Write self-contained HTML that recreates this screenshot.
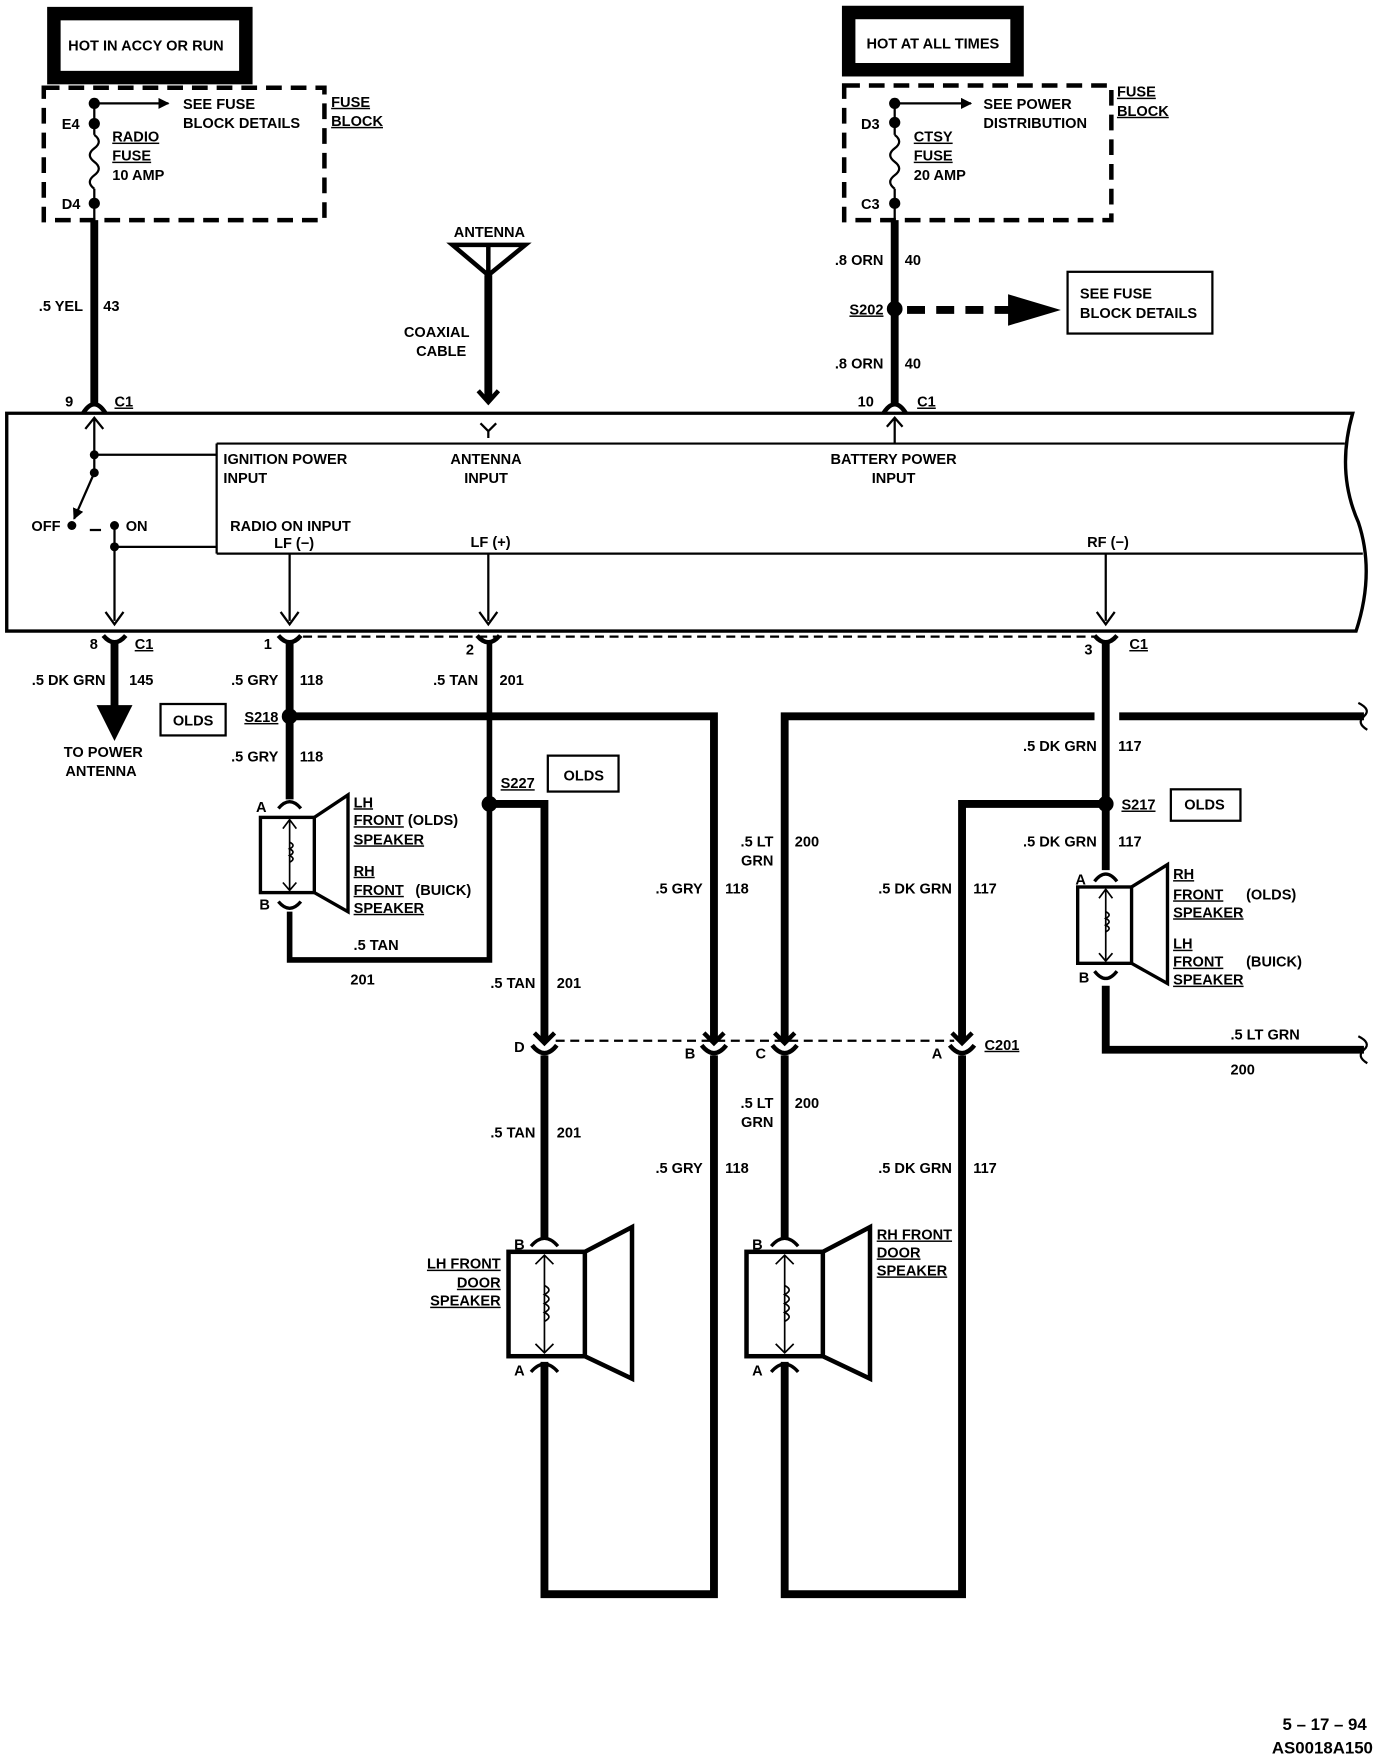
<!DOCTYPE html>
<html><head><meta charset="utf-8"><style>
html,body{margin:0;padding:0;background:#fff}
svg{display:block}
text{font-family:"Liberation Sans",sans-serif;font-weight:bold;font-size:13px;fill:#000}
.u{text-decoration:underline}
</style></head><body>
<svg width="1392" height="1756" viewBox="0 0 1240 1564" xmlns="http://www.w3.org/2000/svg">
<defs>
<marker id="ah" markerWidth="10" markerHeight="10" refX="9" refY="5" orient="auto" markerUnits="userSpaceOnUse"><path d="M0,0 L10,5 L0,10 z"/></marker>
</defs>
<g fill="none" stroke="#000">
<rect x="48" y="12" width="171" height="57" stroke-width="12"/>
<rect x="39" y="78" width="250" height="118" stroke-width="4" stroke-dasharray="14,8"/>
<line x1="84" y1="88" x2="84" y2="120" stroke-width="2"/>
<path d="M84,120 q8,6 0,12 q-8,6 0,12 q8,6 0,12 q-8,6 0,12" stroke-width="2"/>
<line x1="84" y1="168" x2="84" y2="196" stroke-width="2"/>
<line x1="84" y1="92" x2="150" y2="92" stroke-width="2" marker-end="url(#ah)"/>
<line x1="84" y1="196" x2="84" y2="360" stroke-width="7"/>
<rect x="756" y="11" width="150" height="51" stroke-width="12"/>
<rect x="752" y="76" width="238" height="120" stroke-width="4" stroke-dasharray="14,8"/>
<line x1="797" y1="88" x2="797" y2="120" stroke-width="2"/>
<path d="M797,120 q8,6 0,12 q-8,6 0,12 q8,6 0,12 q-8,6 0,12" stroke-width="2"/>
<line x1="797" y1="168" x2="797" y2="196" stroke-width="2"/>
<line x1="797" y1="92" x2="865" y2="92" stroke-width="2" marker-end="url(#ah)"/>
<line x1="797" y1="196" x2="797" y2="360" stroke-width="7"/>
<line x1="808" y1="276" x2="900" y2="276" stroke-width="7" stroke-dasharray="16,10"/>
<rect x="951" y="242" width="129" height="55" stroke-width="2"/>
<path d="M403,218 L468,218 L435,245 Z M435,218 L435,245" stroke-width="4"/>
<line x1="435" y1="245" x2="435" y2="356" stroke-width="7"/>
<path d="M426,348 L435,358 L444,348" stroke-width="4"/>
<path d="M428,377 L435,384 L442,377 M435,384 L435,390" stroke-width="2"/>
<path d="M74,368 Q84,352 94,368" stroke-width="4"/>
<path d="M787,368 Q797,352 807,368" stroke-width="4"/>
<path d="M6,368 L1205,368 Q1190,420 1210,465 Q1225,510 1208,562 L6,562 Z" stroke-width="3"/>
<path d="M193,395 L1198,395 M193,493 L1214,493 M193,395 L193,493" stroke-width="2"/>
<path d="M84,372 L84,421 M76,382 L84,372 L92,382" stroke-width="2"/>
<path d="M84,405 L193,405" stroke-width="2"/>
<line x1="84" y1="421" x2="66" y2="462" stroke-width="2" marker-end="url(#ah)"/>
<path d="M80,472 L90,472" stroke-width="2"/>
<path d="M102,468 L102,553 M102,487 L193,487" stroke-width="2"/>
<path d="M797,395 L797,372 M790,380 L797,372 L804,380" stroke-width="2"/>
<path d="M258,493 L258,553 M435,493 L435,553 M985,493 L985,553" stroke-width="2"/>
<path d="M94,545 L102,556 L110,545 M250,545 L258,556 L266,545 M427,545 L435,556 L443,545 M977,545 L985,556 L993,545" stroke-width="2"/>
<path d="M92,566 Q102,578 112,566 M248,566 Q258,578 268,566 M425,566 Q435,578 445,566 M975,566 Q985,578 995,566" stroke-width="4"/>
<line x1="270" y1="567" x2="975" y2="567" stroke-width="2" stroke-dasharray="8,5"/>
<line x1="102" y1="572" x2="102" y2="630" stroke-width="7"/>
<line x1="258" y1="572" x2="258" y2="712" stroke-width="7"/>
<rect x="143" y="627" width="58" height="28" stroke-width="2"/>
<path d="M258,638 L636,638 L636,928" stroke-width="7"/>
<path d="M636,940 L636,1420 L485,1420 L485,1213" stroke-width="7"/>
<path d="M436,572 L436,855 L258,855 L258,812" stroke-width="5"/>
<path d="M436,716 L485,716 L485,928" stroke-width="7"/>
<rect x="488" y="673" width="63" height="32" stroke-width="2"/>
<path d="M485,940 L485,1102" stroke-width="7"/>
<path d="M699,1213 L699,1420 L857,1420 L857,940" stroke-width="7"/>
<path d="M857,928 L857,716 L985,716" stroke-width="7"/>
<path d="M699,1102 L699,940" stroke-width="7"/>
<path d="M699,928 L699,638 L975,638 M997,638 L1215,638" stroke-width="7"/>
<path d="M1210,626 Q1222,632 1215,638 Q1208,644 1218,650" stroke-width="2"/>
<line x1="985" y1="572" x2="985" y2="775" stroke-width="7"/>
<rect x="1043" y="703" width="62" height="28" stroke-width="2"/>
<path d="M985,878 L985,935 L1215,935" stroke-width="7"/>
<path d="M1210,923 Q1222,929 1215,935 Q1208,941 1218,947" stroke-width="2"/>
<line x1="495" y1="927" x2="850" y2="927" stroke-width="2" stroke-dasharray="8,5"/>
<path d="M476,920 L485,929 L494,920 M627,920 L636,929 L645,920 M690,920 L699,929 L708,920 M848,920 L857,929 L866,920" stroke-width="4"/>
<path d="M474,931 Q485,945 496,931 M625,931 Q636,945 647,931 M688,931 Q699,945 710,931 M846,931 Q857,945 868,931" stroke-width="4"/>
<rect x="232" y="728" width="48" height="67" stroke-width="3"/>
<path d="M280,728 L310,708 L310,812 L280,795" stroke-width="3"/>
<path d="M258,730 L258,793 M252,738 L258,730 L264,738 M252,786 L258,793 L264,786" stroke-width="1.5"/>
<path d="M258,750 q6,3 0,6 q6,3 0,6 q6,3 0,6" stroke-width="1.5"/>
<path d="M248,720 Q258,708 268,720 M248,803 Q258,815 268,803" stroke-width="3"/>
<rect x="960" y="790" width="48" height="68" stroke-width="3"/>
<path d="M1008,790 L1040,770 L1040,876 L1008,858" stroke-width="3"/>
<path d="M985,792 L985,856 M979,800 L985,792 L991,800 M979,849 L985,856 L991,849" stroke-width="1.5"/>
<path d="M985,812 q6,3 0,6 q6,3 0,6 q6,3 0,6" stroke-width="1.5"/>
<path d="M975,785 Q985,772 995,785 M975,865 Q985,878 995,865" stroke-width="3"/>
<rect x="453" y="1115" width="68" height="93" stroke-width="4"/>
<path d="M521,1115 L563,1093 L563,1228 L521,1208" stroke-width="4"/>
<path d="M485,1118 L485,1205 M477,1126 L485,1118 L493,1126 M477,1197 L485,1205 L493,1197" stroke-width="1.5"/>
<path d="M485,1145 q8,4 0,8 q8,4 0,8 q8,4 0,8 q8,4 0,8" stroke-width="1.5"/>
<path d="M473,1110 Q485,1096 497,1110 M473,1222 Q485,1208 497,1222" stroke-width="3"/>
<rect x="665" y="1115" width="68" height="93" stroke-width="4"/>
<path d="M733,1115 L775,1093 L775,1228 L733,1208" stroke-width="4"/>
<path d="M699,1118 L699,1205 M691,1126 L699,1118 L707,1126 M691,1197 L699,1205 L707,1197" stroke-width="1.5"/>
<path d="M699,1145 q8,4 0,8 q8,4 0,8 q8,4 0,8 q8,4 0,8" stroke-width="1.5"/>
<path d="M687,1110 Q699,1096 711,1110 M687,1222 Q699,1208 711,1222" stroke-width="3"/>
</g>
<g fill="#000">
<rect x="58" y="22" width="149" height="36" fill="#fff"/>
<circle cx="84" cy="92" r="5"/><circle cx="84" cy="110" r="5"/><circle cx="84" cy="181" r="5"/>
<circle cx="797" cy="92" r="5"/><circle cx="797" cy="109" r="5"/><circle cx="797" cy="181" r="5"/>
<circle cx="797" cy="275" r="7"/>
<path d="M898,262 L945,276 L898,290 Z"/>
<circle cx="84" cy="405" r="4"/><circle cx="84" cy="421" r="4"/>
<circle cx="64" cy="468" r="4"/><circle cx="102" cy="468" r="4"/><circle cx="102" cy="487" r="4"/>
<path d="M86,628 L118,628 L102,660 Z"/>
<circle cx="258" cy="638" r="7"/><circle cx="436" cy="716" r="7"/><circle cx="985" cy="716" r="7"/>
</g>
<text x="130" y="45" text-anchor="middle">HOT IN ACCY OR RUN</text>
<text x="831" y="43" text-anchor="middle">HOT AT ALL TIMES</text>
<text x="163" y="97">SEE FUSE</text><text x="163" y="114">BLOCK DETAILS</text>
<text x="295" y="95" class="u">FUSE</text><text x="295" y="112" class="u">BLOCK</text>
<text x="55" y="115">E4</text><text x="55" y="186">D4</text>
<text x="100" y="126" class="u">RADIO</text><text x="100" y="143" class="u">FUSE</text><text x="100" y="160">10 AMP</text>
<text x="876" y="97">SEE POWER</text><text x="876" y="114">DISTRIBUTION</text>
<text x="995" y="86" class="u">FUSE</text><text x="995" y="103" class="u">BLOCK</text>
<text x="767" y="115">D3</text><text x="767" y="186">C3</text>
<text x="814" y="126" class="u">CTSY</text><text x="814" y="143" class="u">FUSE</text><text x="814" y="160">20 AMP</text>
<text x="74" y="277" text-anchor="end">.5 YEL</text><text x="92" y="277">43</text>
<text x="436" y="211" text-anchor="middle">ANTENNA</text>
<text x="389" y="300" text-anchor="middle">COAXIAL</text><text x="393" y="317" text-anchor="middle">CABLE</text>
<text x="787" y="236" text-anchor="end">.8 ORN</text><text x="806" y="236">40</text>
<text x="787" y="280" text-anchor="end" class="u">S202</text>
<text x="962" y="266">SEE FUSE</text><text x="962" y="283">BLOCK DETAILS</text>
<text x="787" y="328" text-anchor="end">.8 ORN</text><text x="806" y="328">40</text>
<text x="58" y="362">9</text><text x="102" y="362" class="u">C1</text>
<text x="764" y="362">10</text><text x="817" y="362" class="u">C1</text>
<text x="199" y="413">IGNITION POWER</text><text x="199" y="430">INPUT</text>
<text x="433" y="413" text-anchor="middle">ANTENNA</text><text x="433" y="430" text-anchor="middle">INPUT</text>
<text x="796" y="413" text-anchor="middle">BATTERY POWER</text><text x="796" y="430" text-anchor="middle">INPUT</text>
<text x="28" y="473">OFF</text><text x="112" y="473">ON</text>
<text x="205" y="473">RADIO ON INPUT</text>
<text x="262" y="488" text-anchor="middle">LF (−)</text>
<text x="437" y="487" text-anchor="middle">LF (+)</text>
<text x="987" y="487" text-anchor="middle">RF (−)</text>
<text x="80" y="578">8</text><text x="120" y="578" class="u">C1</text>
<text x="235" y="578">1</text><text x="415" y="583">2</text><text x="966" y="583">3</text><text x="1006" y="578" class="u">C1</text>
<text x="94" y="610" text-anchor="end">.5 DK GRN</text><text x="115" y="610">145</text>
<text x="248" y="610" text-anchor="end">.5 GRY</text><text x="267" y="610">118</text>
<text x="426" y="610" text-anchor="end">.5 TAN</text><text x="445" y="610">201</text>
<text x="172" y="646" text-anchor="middle">OLDS</text>
<text x="248" y="643" text-anchor="end" class="u">S218</text>
<text x="92" y="674" text-anchor="middle">TO POWER</text><text x="90" y="691" text-anchor="middle">ANTENNA</text>
<text x="248" y="678" text-anchor="end">.5 GRY</text><text x="267" y="678">118</text>
<text x="977" y="669" text-anchor="end">.5 DK GRN</text><text x="996" y="669">117</text>
<text x="446" y="702" class="u">S227</text>
<text x="520" y="695" text-anchor="middle">OLDS</text>
<text x="999" y="721" class="u">S217</text>
<text x="1073" y="721" text-anchor="middle">OLDS</text>
<text x="228" y="723">A</text><text x="231" y="810">B</text>
<text x="315" y="719" class="u">LH</text>
<text x="315" y="735"><tspan class="u">FRONT</tspan> (OLDS)</text>
<text x="315" y="752" class="u">SPEAKER</text>
<text x="315" y="780" class="u">RH</text>
<text x="315" y="797" class="u">FRONT</text><text x="370" y="797">(BUICK)</text>
<text x="315" y="813" class="u">SPEAKER</text>
<text x="977" y="754" text-anchor="end">.5 DK GRN</text><text x="996" y="754">117</text>
<text x="958" y="788">A</text><text x="961" y="875">B</text>
<text x="1045" y="783" class="u">RH</text>
<text x="1045" y="801" class="u">FRONT</text><text x="1110" y="801">(OLDS)</text>
<text x="1045" y="817" class="u">SPEAKER</text>
<text x="1045" y="845" class="u">LH</text>
<text x="1045" y="861" class="u">FRONT</text><text x="1110" y="861">(BUICK)</text>
<text x="1045" y="877" class="u">SPEAKER</text>
<text x="689" y="754" text-anchor="end">.5 LT</text><text x="689" y="771" text-anchor="end">GRN</text><text x="708" y="754">200</text>
<text x="626" y="796" text-anchor="end">.5 GRY</text><text x="646" y="796">118</text>
<text x="848" y="796" text-anchor="end">.5 DK GRN</text><text x="867" y="796">117</text>
<text x="335" y="846" text-anchor="middle">.5 TAN</text><text x="323" y="877" text-anchor="middle">201</text>
<text x="477" y="880" text-anchor="end">.5 TAN</text><text x="496" y="880">201</text>
<text x="1127" y="926" text-anchor="middle">.5 LT GRN</text><text x="1107" y="957" text-anchor="middle">200</text>
<text x="458" y="937">D</text><text x="610" y="943">B</text><text x="673" y="943">C</text><text x="830" y="943">A</text>
<text x="877" y="935" class="u">C201</text>
<text x="689" y="987" text-anchor="end">.5 LT</text><text x="689" y="1004" text-anchor="end">GRN</text><text x="708" y="987">200</text>
<text x="477" y="1013" text-anchor="end">.5 TAN</text><text x="496" y="1013">201</text>
<text x="626" y="1045" text-anchor="end">.5 GRY</text><text x="646" y="1045">118</text>
<text x="848" y="1045" text-anchor="end">.5 DK GRN</text><text x="867" y="1045">117</text>
<text x="458" y="1113">B</text><text x="458" y="1225">A</text>
<text x="670" y="1113">B</text><text x="670" y="1225">A</text>
<text x="446" y="1130" text-anchor="end" class="u">LH FRONT</text>
<text x="446" y="1147" text-anchor="end" class="u">DOOR</text>
<text x="446" y="1163" text-anchor="end" class="u">SPEAKER</text>
<text x="781" y="1104" class="u">RH FRONT</text>
<text x="781" y="1120" class="u">DOOR</text>
<text x="781" y="1136" class="u">SPEAKER</text>
<text x="1180" y="1541" text-anchor="middle" style="font-size:15px">5 – 17 – 94</text>
<text x="1178" y="1562" text-anchor="middle" style="font-size:15px">AS0018A150</text>
</svg>
</body></html>
